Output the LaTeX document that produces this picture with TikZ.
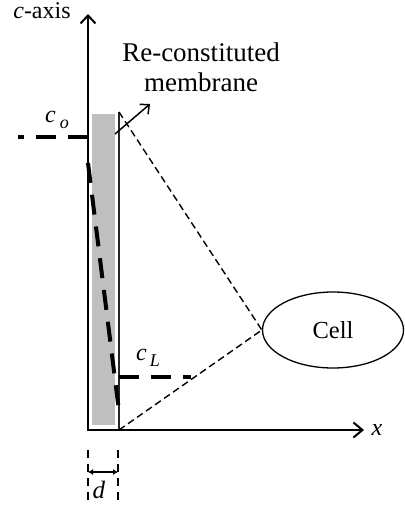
\documentclass[tikz,border=0pt]{standalone}
\usepackage{fontspec}
\setmainfont{Liberation Serif}
\usetikzlibrary{arrows.meta,shapes.geometric}
\newcommand{\fsz}[1]{\fontsize{#1}{#1}\selectfont}
\begin{document}
\begin{tikzpicture}[x=1pt,y=-1pt,
  axisline/.style={line width=2pt,
    {Straight Barb[length=8pt,width=15pt,line width=2pt]}-{Straight Barb[length=9pt,width=15pt,line width=2pt]}},
  thindash/.style={line width=1.4pt,dash pattern=on 7pt off 4pt},
  thickdash/.style={line width=4.5pt,dash pattern=on 20pt off 12pt},
  dimdash/.style={line width=1.5pt,dash pattern=on 8pt off 6pt},
  lbl/.style={inner sep=0pt,anchor=base}
]
\useasboundingbox (0,0) rectangle (404,505);
% membrane (gray)
\fill[black!25] (92,114) rectangle (115,425);
% axes
\coordinate (ctop) at (88,14);
\coordinate (O) at (88,430);
\coordinate (xend) at (364,430);
\draw[axisline] (ctop) -- (O) -- (xend);
% membrane line
\coordinate (mtop) at (119,112);
\coordinate (mbot) at (119,430);
\draw[line width=1.4pt,black!85] (mtop) -- (mbot);
% cell
\node[ellipse,draw,line width=1.3pt,minimum width=141pt,minimum height=76pt,inner sep=0pt,font=\fsz{24.5}] (cell) at (333,330) {Cell};
\draw[thindash] (mtop) -- (cell.west);
\draw[thindash] (mbot) -- (cell.west);
% concentration lines
\coordinate (co1) at (88,137);
\coordinate (co0) at (18,137);
\draw[thickdash,line width=4pt] (co1) -- (co0);
\coordinate (cL0) at (119,377);
\coordinate (cL1) at (191,377);
\draw[thickdash] (cL0) -- (cL1);
\coordinate (s0) at (88,163);
\coordinate (s1) at (118.5,407);
\draw[thickdash,line width=4pt] (s0) -- (s1);
% pointer arrow
\coordinate (a0) at (115,134);
\coordinate (a1) at (150,104);
\draw[line width=1.5pt,-{Straight Barb[length=7pt,width=13pt,line width=1.5pt]}] (a0) -- (a1);
% labels
\node[lbl,font=\fsz{27}] (t1) at (201,62) {Re-constituted};
\node[lbl,font=\fsz{27}] (t2) at (201,92) {membrane};
\node[lbl,font=\fsz{24}] (cax) at (42,19) {\textit{c}-axis};
\node[lbl,font=\fsz{24}] (xl) at (377,435) {\textit{x}};
\node[lbl,font=\fsz{24}] (col) at (57,123) {\textit{c}\hspace{4pt}\raisebox{-6pt}{\fsz{18}\textit{o}}};
\node[lbl,font=\fsz{24}] (cLl) at (148,360) {\textit{c}\hspace{3pt}\raisebox{-6pt}{\fsz{18}\textit{L}}};
% d dimension
\coordinate (dl0) at (88,450);
\coordinate (dl1) at (88,505);
\coordinate (dr0) at (118,450);
\coordinate (dr1) at (118,505);
\draw[dimdash] (dl0) -- (dl1);
\draw[dimdash] (dr0) -- (dr1);
\coordinate (da) at (88,472);
\coordinate (db) at (118,472);
\draw[line width=1.5pt,{Latex[length=5pt,width=6pt]}-{Latex[length=5pt,width=6pt]}] (da) -- (db);
\node[lbl,font=\fsz{25}] (dlab) at (99,498) {\textit{d}};
\end{tikzpicture}
\end{document}
